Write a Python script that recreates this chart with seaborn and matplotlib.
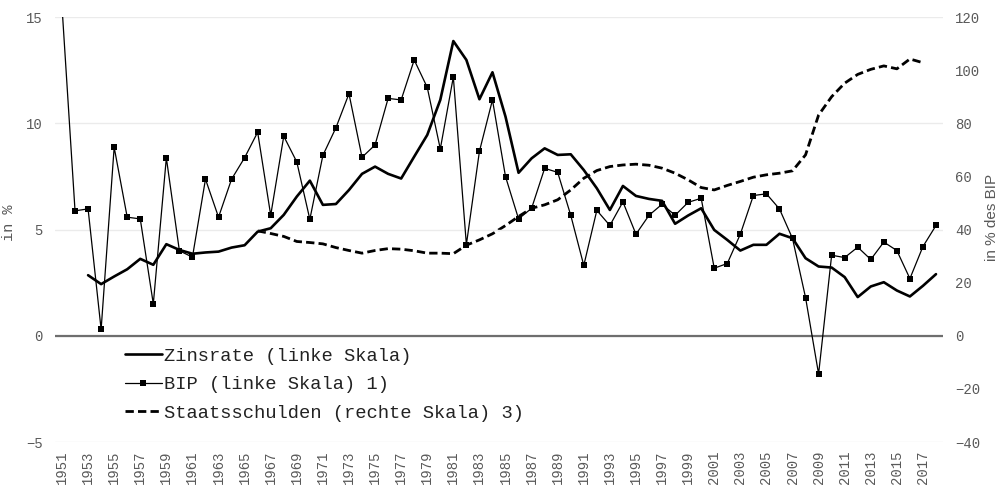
import numpy as np
import pandas as pd
import matplotlib
matplotlib.use("Agg")
import matplotlib.pyplot as plt
import seaborn as sns

years = list(range(1951, 2019))

# Zinsrate (left scale), starts 1953
zinsrate = [np.nan, np.nan,
            2.85, 2.43, 2.79, 3.13, 3.62, 3.34, 4.31, 4.04, 3.86, 3.92,
            3.96, 4.15, 4.26, 4.90, 5.06, 5.69, 6.55, 7.30, 6.16, 6.20,
            6.86, 7.62, 7.96, 7.62, 7.40, 8.43, 9.45, 11.10, 13.87, 12.98,
            11.13, 12.40, 10.31, 7.67, 8.35, 8.82, 8.51, 8.54, 7.80, 6.94,
            5.92, 7.05, 6.58, 6.44, 6.35, 5.27, 5.66, 6.00, 4.98, 4.51,
            4.01, 4.28, 4.28, 4.80, 4.59, 3.65, 3.26, 3.21, 2.76, 1.82,
            2.32, 2.52, 2.13, 1.85, 2.35, 2.90]

# BIP growth (left scale)
bip = [15.5, 5.88, 5.97, 0.30, 8.87, 5.58, 5.50, 1.50, 8.37, 4.00,
       3.70, 7.37, 5.58, 7.37, 8.38, 9.58, 5.67, 9.39, 8.18, 5.48,
       8.49, 9.79, 11.39, 8.40, 8.98, 11.17, 11.10, 12.98, 11.69, 8.79,
       12.18, 4.29, 8.68, 11.10, 7.49, 5.50, 6.00, 7.88, 7.69, 5.67,
       3.31, 5.90, 5.19, 6.30, 4.78, 5.67, 6.19, 5.67, 6.28, 6.47,
       3.18, 3.40, 4.78, 6.60, 6.68, 5.97, 4.58, 1.80, -1.80, 3.79,
       3.68, 4.17, 3.59, 4.41, 4.01, 2.69, 4.20, 5.19]

# Staatsschulden in % des BIP (right scale), 1966-2017
schulden = [np.nan] * 15 + [
    39.5, 38.5, 37.4, 35.5, 35.1, 34.6, 33.2, 32.1, 31.1, 32.1,
    32.8, 32.6, 32.0, 31.1, 31.1, 30.9, 34.1, 36.1, 38.4, 41.5,
    44.9, 48.0, 49.3, 51.2, 54.9, 59.3, 62.2, 63.7, 64.3, 64.6,
    64.2, 63.1, 61.2, 58.7, 55.8, 54.9, 56.6, 58.1, 59.7, 60.6,
    61.2, 62.1, 68.1, 83.1, 90.0, 95.1, 98.4, 100.3, 101.6, 100.5,
    104.2, 102.8, np.nan]

df = pd.DataFrame({"Jahr": years, "Zinsrate": zinsrate, "BIP": bip,
                   "Schulden": schulden})

sns.set_style("white")
plt.rcParams["font.family"] = ["Liberation Mono", "DejaVu Sans Mono"]

fig = plt.figure(figsize=(10.03, 4.92), dpi=100)
ax = fig.add_axes([0.0553, 0.1016, 0.8844, 0.8638])
ax2 = ax.twinx()

sns.lineplot(data=df, x="Jahr", y="Zinsrate", ax=ax, color="black",
             linewidth=1.9, estimator=None, label="Zinsrate (linke Skala)")
sns.lineplot(data=df, x="Jahr", y="BIP", ax=ax, color="black",
             linewidth=0.9, marker="s", markersize=5, markeredgewidth=0,
             estimator=None, label="BIP (linke Skala) 1)")
sns.lineplot(data=df, x="Jahr", y="Schulden", ax=ax2, color="black",
             linewidth=2.0, linestyle=(0, (3, 1.5)), estimator=None,
             label="Staatsschulden (rechte Skala) 3)")

ax.set_xlim(1950.5, 2018.5)
ax.set_ylim(-5, 15)
ax.set_yticks([-5, 0, 5, 10, 15])
ax2.set_ylim(-40, 120)
ax2.set_yticks(range(-40, 121, 20))
ax.set_xticks(range(1951, 2018, 2))
ax.set_xticklabels([str(y) for y in range(1951, 2018, 2)], rotation=90)

for a in (ax, ax2):
    for s in a.spines.values():
        s.set_visible(False)
ax.grid(axis="y", color="#ebebeb", linewidth=1)
ax.grid(axis="x", visible=False)
ax.axhline(0, color="#6e6e6e", linewidth=1.6, zorder=1)

ax.tick_params(axis="y", length=0, pad=9, labelsize=10, labelcolor="#595959")
ax.tick_params(axis="x", length=0, pad=6, labelsize=10, labelcolor="#595959")
ax2.tick_params(axis="y", length=0, pad=9, labelsize=10, labelcolor="#595959")

ax.set_xlabel("")
ax.set_ylabel("in %", fontsize=11, color="#595959")
ax.yaxis.set_label_coords(-0.044, 0.515)
ax2.set_ylabel("")
fig.text(0.989, 0.558, "in % des BIP", rotation=90, ha="center", va="center",
         fontsize=11, color="#595959", family=["Liberation Sans", "DejaVu Sans"])

h1, l1 = ax.get_legend_handles_labels()
h2, l2 = ax2.get_legend_handles_labels()
if ax2.get_legend():
    ax2.get_legend().remove()
ax.legend(h1 + h2, l1 + l2, loc="upper left", bbox_to_anchor=(0.078, 0.222),
          frameon=False, fontsize=13.5, handlelength=2.0, handletextpad=0.1,
          labelspacing=0.6, borderpad=0, borderaxespad=0,
          labelcolor="#222222")
ax.set_zorder(ax2.get_zorder() + 1)
ax.patch.set_visible(False)

plt.savefig("out.png", dpi=100)
